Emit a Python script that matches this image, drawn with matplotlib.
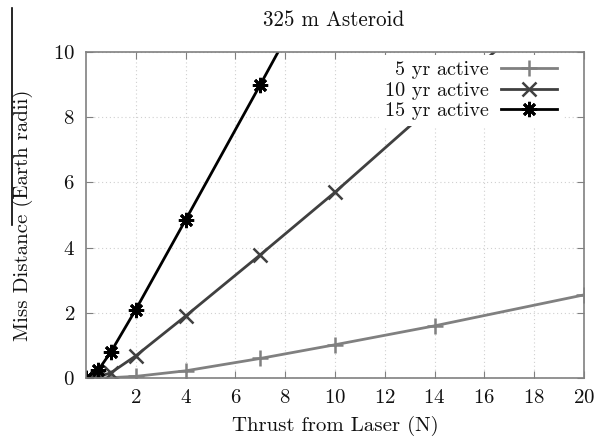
import matplotlib
matplotlib.use("Agg")
import matplotlib.pyplot as plt
from matplotlib.lines import Line2D

plt.rcParams['font.family'] = ['cmr10', 'DejaVu Serif']
plt.rcParams['mathtext.fontset'] = 'cm'
plt.rcParams['axes.formatter.use_mathtext'] = True

title = "325 m Asteroid"
xlabel = "Thrust from Laser (N)"
ylabel = "Miss Distance (Earth radii)"

x5 = [0, 0.5, 1, 2, 4, 7, 10, 14, 20]
y5 = [0, 0.0, 0.01, 0.05, 0.22, 0.6, 1.02, 1.6, 2.55]
x10 = [0, 0.5, 1, 2, 4, 7, 10, 14, 20]
y10 = [0, 0.04, 0.16, 0.68, 1.9, 3.78, 5.7, 8.4, 12.4]
x15 = [0, 0.5, 1, 2, 4, 7, 10]
y15 = [0, 0.25, 0.8, 2.1, 4.85, 9.0, 13.2]

xticks = [2, 4, 6, 8, 10, 12, 14, 16, 18, 20]
yticks = [0, 2, 4, 6, 8, 10]

fig = plt.figure(figsize=(6.04, 4.45), dpi=100)
ax = fig.add_axes([86/604, 1-378/445, (584-86)/604, (378-52)/445])

ax.plot(x5, y5, color='#808080', lw=2, marker='+', ms=12, mew=1.8, label='5 yr active')
ax.plot(x10, y10, color='#404040', lw=2, marker='x', ms=10, mew=1.8, label='10 yr active')
ax.plot(x15, y15, color='#000000', lw=2, marker=(8, 2, 0), ms=11, mew=2.0, label='15 yr active')

ax.set_xlim(0, 20)
ax.set_ylim(0, 10)
ax.set_xticks(xticks)
ax.set_yticks(yticks)
ax.grid(True, color='#d0d0d0', linestyle=(0, (1, 2.5)), lw=0.8)
for s in ax.spines.values():
    s.set_color('#808080')
    s.set_linewidth(1.2)
ax.tick_params(direction='in', top=True, right=True, length=5, color='#808080',
               labelsize=15, pad=8, labelcolor='#111111')
ax.set_xlabel(xlabel, fontsize=15, color='#111111', labelpad=6)
ax.set_ylabel(ylabel, fontsize=15, color='#111111', labelpad=14)
fig.text(334/604, 1-20/445, title, ha='center', va='center', fontsize=15.2, color='#111111')

leg = ax.legend(loc='upper right', bbox_to_anchor=(0.958, 0.99), markerfirst=False,
                fontsize=14.5, frameon=True, handlelength=2.8, borderaxespad=0.0,
                labelspacing=0.12, borderpad=0.3, handletextpad=0.6)
leg.get_frame().set_edgecolor('none')
leg.get_frame().set_facecolor('white')
leg.get_frame().set_alpha(1)
for t in leg.get_texts():
    t.set_color('#111111')

fig.add_artist(Line2D([12/604, 12/604], [1-8/445, 1-225/445], color='black', lw=1.2,
                      transform=fig.transFigure))

fig.savefig('out.png', dpi=100)
